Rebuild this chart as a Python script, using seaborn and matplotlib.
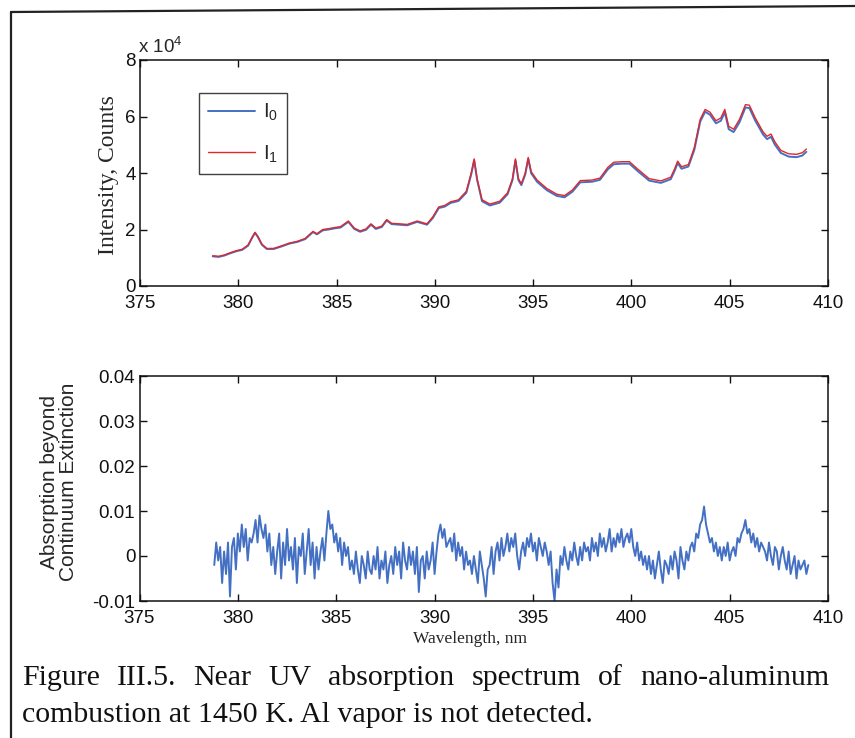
import numpy as np
import pandas as pd
import matplotlib
matplotlib.use("Agg")
import matplotlib.pyplot as plt
from matplotlib.lines import Line2D
import seaborn as sns

# ---- incident / transmitted intensity (units of 1e4 counts) ----
wavelength = [
    378.7, 379.0, 379.3, 379.6, 379.9, 380.2, 380.5, 380.7, 380.85, 381.0,
    381.2, 381.45, 381.8, 382.2, 382.6, 383.0, 383.4, 383.8, 384.0, 384.3,
    384.6, 384.9, 385.2, 385.6, 385.9, 386.2, 386.5, 386.75, 387.0, 387.3,
    387.55, 387.8, 388.2, 388.6, 389.1, 389.6, 389.9, 390.2, 390.5, 390.8,
    391.2, 391.6, 391.85, 392.0, 392.15, 392.4, 392.8, 393.3, 393.7, 393.95,
    394.1, 394.25, 394.4, 394.6, 394.75, 394.9, 395.2, 395.7, 396.2, 396.6,
    397.0, 397.4, 398.0, 398.4, 398.8, 399.1, 399.5, 399.9, 400.3, 400.9,
    401.5, 402.0, 402.2, 402.35, 402.55, 402.9, 403.2, 403.5, 403.75, 404.0,
    404.3, 404.55, 404.75, 404.95, 405.2, 405.5, 405.8, 406.0, 406.3, 406.7,
    406.9, 407.1, 407.3, 407.6, 408.0, 408.4, 408.7, 408.9,
]
i1_counts = [
    1.07, 1.05, 1.10, 1.18, 1.25, 1.30, 1.45, 1.72, 1.90, 1.75,
    1.48, 1.33, 1.33, 1.42, 1.52, 1.58, 1.68, 1.93, 1.85, 2.00,
    2.03, 2.07, 2.10, 2.30, 2.05, 1.95, 2.02, 2.20, 2.05, 2.12,
    2.35, 2.22, 2.20, 2.18, 2.30, 2.20, 2.45, 2.80, 2.85, 2.98,
    3.05, 3.35, 4.00, 4.50, 3.80, 3.05, 2.90, 3.00, 3.30, 3.80,
    4.50, 3.80, 3.62, 4.00, 4.55, 4.05, 3.75, 3.45, 3.25, 3.20,
    3.40, 3.73, 3.75, 3.82, 4.20, 4.38, 4.40, 4.40, 4.15, 3.80,
    3.72, 3.85, 4.15, 4.42, 4.22, 4.30, 4.90, 5.90, 6.25, 6.15,
    5.85, 5.95, 6.25, 5.65, 5.55, 5.90, 6.42, 6.40, 5.95, 5.45,
    5.30, 5.38, 5.10, 4.80, 4.68, 4.66, 4.72, 4.85,
]
i0_counts = [
    1.05, 1.03, 1.08, 1.16, 1.23, 1.28, 1.43, 1.70, 1.88, 1.73,
    1.46, 1.31, 1.31, 1.40, 1.50, 1.56, 1.66, 1.91, 1.83, 1.97,
    2.00, 2.04, 2.07, 2.27, 2.02, 1.92, 1.99, 2.17, 2.02, 2.09,
    2.32, 2.19, 2.17, 2.15, 2.27, 2.17, 2.41, 2.76, 2.81, 2.94,
    3.01, 3.30, 3.95, 4.45, 3.75, 3.00, 2.85, 2.95, 3.25, 3.75,
    4.45, 3.75, 3.57, 3.95, 4.50, 3.99, 3.69, 3.39, 3.19, 3.14,
    3.34, 3.67, 3.69, 3.76, 4.13, 4.31, 4.33, 4.33, 4.08, 3.73,
    3.65, 3.78, 4.08, 4.35, 4.15, 4.23, 4.82, 5.82, 6.17, 6.06,
    5.76, 5.85, 6.15, 5.55, 5.45, 5.80, 6.32, 6.30, 5.85, 5.36,
    5.20, 5.28, 5.00, 4.71, 4.58, 4.56, 4.62, 4.75,
]

# ---- absorption beyond continuum extinction (units of 1e-3), 0.1 nm grid ----
abs_start_nm = 378.8
abs_step_nm = 0.1
absorption_milli = [
    -2, 3, -1, 2, -6, 1, -4, 3, -9, 2,
    4, -3, 5, 1, 7, 2, 6, -1, 4, 3,
    5, 8, 3, 9, 6, 4, 7, 1, 5, -2,
    2, -4, 1, 5, -5, 3, -2, 6, -1, 2,
    -3, 4, -6, 2, 0, 5, -4, 1, 6, -2,
    3, -5, 2, -3, 1, 4, -1, 5, 10, 6,
    7, 3, 5, 1, 4, -2, 3, 0, 2, -3,
    -1, -4, 1, -3, -6, 0, -2, -5, 1, -3,
    -4, 0, -3, 2, -5, -1, -3, 1, -6, -2,
    0, -4, 2, -2, 1, -5, 3, -1, -3, 2,
    -2, 1, -4, 2, -8, -1, 0, -5, 1, -3,
    -1, 3, -4, 1, 5, 7, 4, 6, 2, 3,
    4, 1, 5, -1, 3, 0, 2, -3, 1, -2,
    -1, -4, 0, -3, -6, 1, -2, -5, -9, -3,
    -2, 2, -4, 1, 3, -1, 4, 0, 2, 5,
    1, 4, 2, 5, 0, -3, 1, 3, 0, 4,
    2, 5, 1, 3, -1, 4, 2, 0, 3, 1,
    -2, 1, -6, -10, -3, -7, 0, -2, 2, -1,
    -3, 1, -1, 3, 0, -2, 2, -1, 3, 1,
    2, -1, 4, 1, 3, 0, 5, 2, 4, 1,
    3, 6, 1, 4, 2, 5, 3, 6, 2, 4,
    5, 3, 6, 2, 0, 3, -1, 1, -2, 0,
    -3, 0, -4, -1, -5, -2, 1, -3, -6, -1,
    -2, -4, 0, -3, 1, -1, -5, 2, -1, -3,
    1, -1, 2, 3, 1, 5, 4, 7, 8, 11,
    7, 5, 3, 4, 1, 3, 0, 2, -1, 2,
    0, 3, -1, 1, 2, 0, 4, 3, 5, 6,
    8, 5, 6, 3, 5, 2, 4, 1, 3, 2,
    1, -1, 3, 0, -2, 2, 1, -3, 0, 2,
    -1, -3, 1, -4, -2, 0, -5, -1, -3, -2,
    -1, -4, -2,
]

x_ticks = [375, 380, 385, 390, 395, 400, 405, 410]
top_yticks = [0, 2, 4, 6, 8]
bottom_yticks = [-0.01, 0, 0.01, 0.02, 0.03, 0.04]
bottom_yticklabels = ["-0.01", "0", "0.01", "0.02", "0.03", "0.04"]

BLUE = "#4470c4"
RED = "#e0282a"

sns.set_style("ticks")
plt.rcParams["font.family"] = ["Liberation Sans", "DejaVu Sans"]
plt.rcParams["mathtext.fontset"] = "custom"
plt.rcParams["mathtext.rm"] = "Liberation Sans"
plt.rcParams["mathtext.it"] = "Liberation Sans:italic"
plt.rcParams["axes.linewidth"] = 1.1
plt.rcParams["axes.edgecolor"] = "#111111"

spec = pd.DataFrame({"wavelength": wavelength, "I0": i0_counts, "I1": i1_counts})
n_abs = len(absorption_milli)
absorb = pd.DataFrame({
    "wavelength": abs_start_nm + abs_step_nm * np.arange(n_abs),
    "absorption": np.array(absorption_milli) * 1e-3,
})

fig = plt.figure(figsize=(8.55, 7.38), dpi=100)
fig.patch.set_facecolor("white")

W, H = 855.0, 738.0
ax1 = fig.add_axes([140 / W, 1 - 286 / H, 688 / W, 226 / H])
ax2 = fig.add_axes([139.5 / W, 1 - 601 / H, 688.5 / W, 225 / H])

sns.lineplot(data=spec, x="wavelength", y="I0", ax=ax1, color=BLUE, lw=1.4,
             sort=False, estimator=None)
sns.lineplot(data=spec, x="wavelength", y="I1", ax=ax1, color=RED, lw=1.0,
             sort=False, estimator=None)
sns.lineplot(data=absorb, x="wavelength", y="absorption", ax=ax2, color=BLUE,
             lw=1.4, sort=False, estimator=None)

tick_font = 13.5
for ax in (ax1, ax2):
    ax.set_xlim(375, 410)
    ax.set_xticks(x_ticks)
    ax.set_xticklabels([str(t) for t in x_ticks])
    ax.tick_params(direction="in", top=True, right=True, length=5, width=1.0,
                   labelsize=tick_font, pad=3, colors="#111111")
    ax.tick_params(axis="x", pad=6.5)
    for s in ax.spines.values():
        s.set_visible(True)
    ax.set_facecolor("none")

ax1.set_ylim(0, 8)
ax1.set_yticks(top_yticks)
ax1.set_yticklabels([str(t) for t in top_yticks])
ax1.set_xlabel("")
ax1.set_ylabel("Intensity, Counts", family=["Liberation Serif"], fontsize=17)
ax1.yaxis.set_label_coords(-0.031, 0.49)
ax1.text(-0.003, 1.015, r"x 10$^{4}$", transform=ax1.transAxes, fontsize=13.5,
         ha="left", va="bottom")

legend_handles = [Line2D([], [], color=BLUE, lw=1.4),
                  Line2D([], [], color=RED, lw=1.0)]
leg = ax1.legend(legend_handles, [r"I$_0$", r"I$_1$"], loc="upper left",
                 bbox_to_anchor=(0.086, 0.855), borderaxespad=0.0, fontsize=14.5,
                 frameon=True, fancybox=False, edgecolor="#111111",
                 handlelength=2.3, labelspacing=1.0, borderpad=0.45,
                 handletextpad=0.4)
leg.get_frame().set_linewidth(1.0)

ax2.set_ylim(-0.01, 0.04)
ax2.set_yticks(bottom_yticks)
ax2.set_yticklabels(bottom_yticklabels)
ax2.set_xlabel("Wavelength, nm", family=["Liberation Serif"], fontsize=12.5)
ax2.xaxis.set_label_coords(0.48, -0.135)
ax2.set_ylabel("Absorption beyond\nContinuum Extinction", fontsize=15,
               linespacing=1.0)
ax2.yaxis.set_label_coords(-0.089, 0.53)

# page frame of the scanned sheet
fig.add_artist(Line2D([11 / W, 11 / W], [0, 1 - 12 / H], color="#222222",
                      lw=1.6, transform=fig.transFigure))
fig.add_artist(Line2D([11 / W, 1.0], [1 - 12 / H, 1 - 6 / H], color="#222222",
                      lw=1.6, transform=fig.transFigure))

# caption, first line justified to the column width
cap_font = dict(family=["Liberation Serif"], fontsize=21.5, color="#111111")
line1 = "Figure III.5. Near UV absorption spectrum of nano-aluminum".split()
line2 = "combustion at 1450 K. Al vapor is not detected."
renderer = fig.canvas.get_renderer()
left_px, right_px = 22.0, 829.0
y1 = 1 - 685 / H
texts = [fig.text(0, y1, w, va="baseline", ha="left", **cap_font) for w in line1]
widths = [t.get_window_extent(renderer).width for t in texts]
gap = (right_px - left_px - sum(widths)) / (len(texts) - 1)
x = left_px
for t, w in zip(texts, widths):
    t.set_x(x / W)
    x += w + gap
fig.text(left_px / W, 1 - 722 / H, line2, va="baseline", ha="left", **cap_font)

fig.savefig("out.png", dpi=100, facecolor="white")
